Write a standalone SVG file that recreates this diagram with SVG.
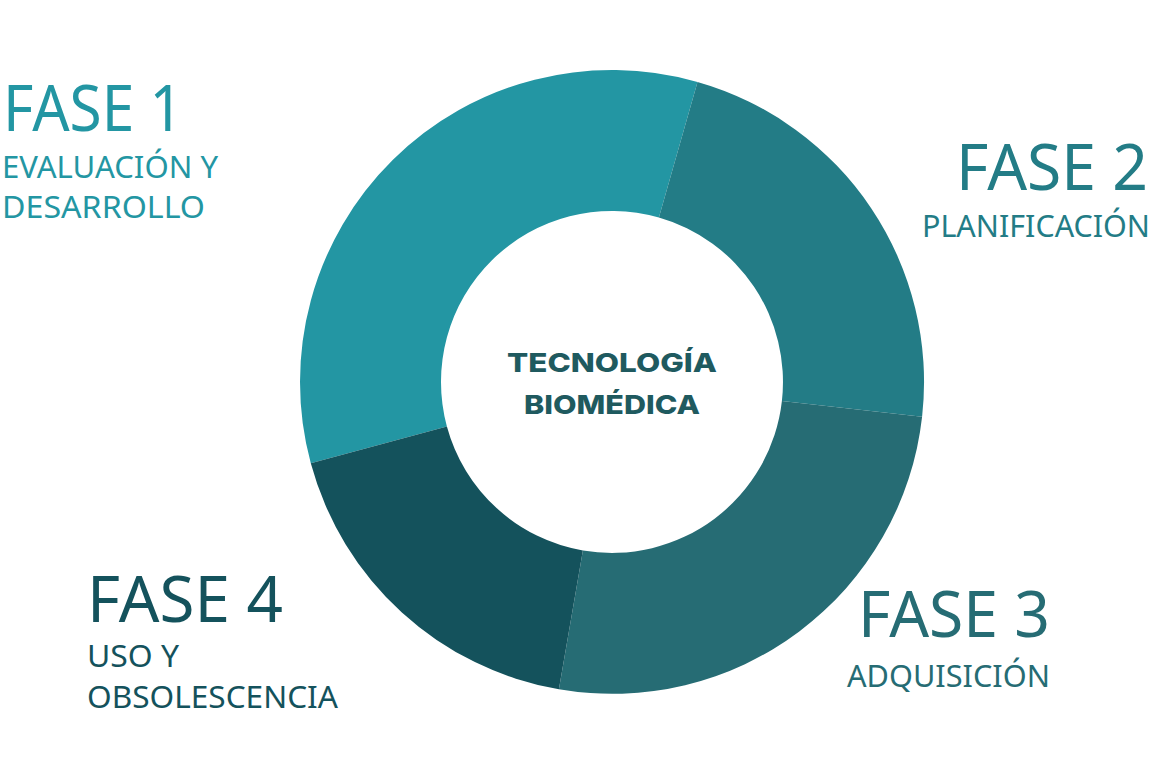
<svg xmlns="http://www.w3.org/2000/svg" width="1152" height="766" viewBox="0 0 1152 766">
<style>
.big{font-family:"Noto Sans","Open Sans",sans-serif;font-size:64px;font-weight:400}
.sub{font-family:"Noto Sans","Open Sans",sans-serif;font-size:31px;font-weight:400}
.ctr{font-family:Inter,"Noto Sans","DejaVu Sans",sans-serif;font-size:26px;font-weight:800;fill:#1f5a5f;text-anchor:middle}
.c1{fill:#2396a3}.c2{fill:#237c86}.c3{fill:#266c74}.c4{fill:#14525c}
</style>
<rect width="1152" height="766" fill="#ffffff"/>
<g id="donut">
<path id="seg1" class="c1" d="M310.8,463.3 A312,312 0 0 1 697.5,81.9 L658.9,217.5 A171,171 0 0 0 446.9,426.5 Z"/>
<path id="seg2" class="c2" d="M697.5,81.9 A312,312 0 0 1 922.1,416.8 L781.9,401.1 A171,171 0 0 0 658.9,217.5 Z"/>
<path id="seg3" class="c3" d="M922.1,416.8 A312,312 0 0 1 558.9,689.3 L582.9,550.4 A171,171 0 0 0 781.9,401.1 Z"/>
<path id="seg4" class="c4" d="M558.9,689.3 A312,312 0 0 1 310.8,463.3 L446.9,426.5 A171,171 0 0 0 582.9,550.4 Z"/>
</g>
<g id="center">
<text class="ctr" x="612" y="372" textLength="210" lengthAdjust="spacingAndGlyphs">TECNOLOGÍA</text>
<text class="ctr" x="612" y="414" textLength="176" lengthAdjust="spacingAndGlyphs">BIOMÉDICA</text>
</g>
<g id="fase1" class="c1">
<text class="big" x="3" y="131" textLength="180" lengthAdjust="spacingAndGlyphs">FASE 1</text>
<text class="sub" x="2" y="178" textLength="216" lengthAdjust="spacingAndGlyphs">EVALUACIÓN Y</text>
<text class="sub" x="2" y="218" textLength="203" lengthAdjust="spacingAndGlyphs">DESARROLLO</text>
</g>
<g id="fase2" class="c2">
<text class="big" x="1148" y="190" text-anchor="end" textLength="192" lengthAdjust="spacingAndGlyphs">FASE 2</text>
<text class="sub" x="1150" y="237" text-anchor="end" textLength="228" lengthAdjust="spacingAndGlyphs">PLANIFICACIÓN</text>
</g>
<g id="fase3" class="c3">
<text class="big" x="1050" y="637" text-anchor="end" textLength="192" lengthAdjust="spacingAndGlyphs">FASE 3</text>
<text class="sub" x="1050" y="687" text-anchor="end" textLength="203" lengthAdjust="spacingAndGlyphs">ADQUISICIÓN</text>
</g>
<g id="fase4" class="c4">
<text class="big" x="87" y="622" textLength="196" lengthAdjust="spacingAndGlyphs">FASE 4</text>
<text class="sub" x="87" y="667" textLength="92" lengthAdjust="spacingAndGlyphs">USO Y</text>
<text class="sub" x="87" y="708" textLength="251" lengthAdjust="spacingAndGlyphs">OBSOLESCENCIA</text>
</g>
</svg>
